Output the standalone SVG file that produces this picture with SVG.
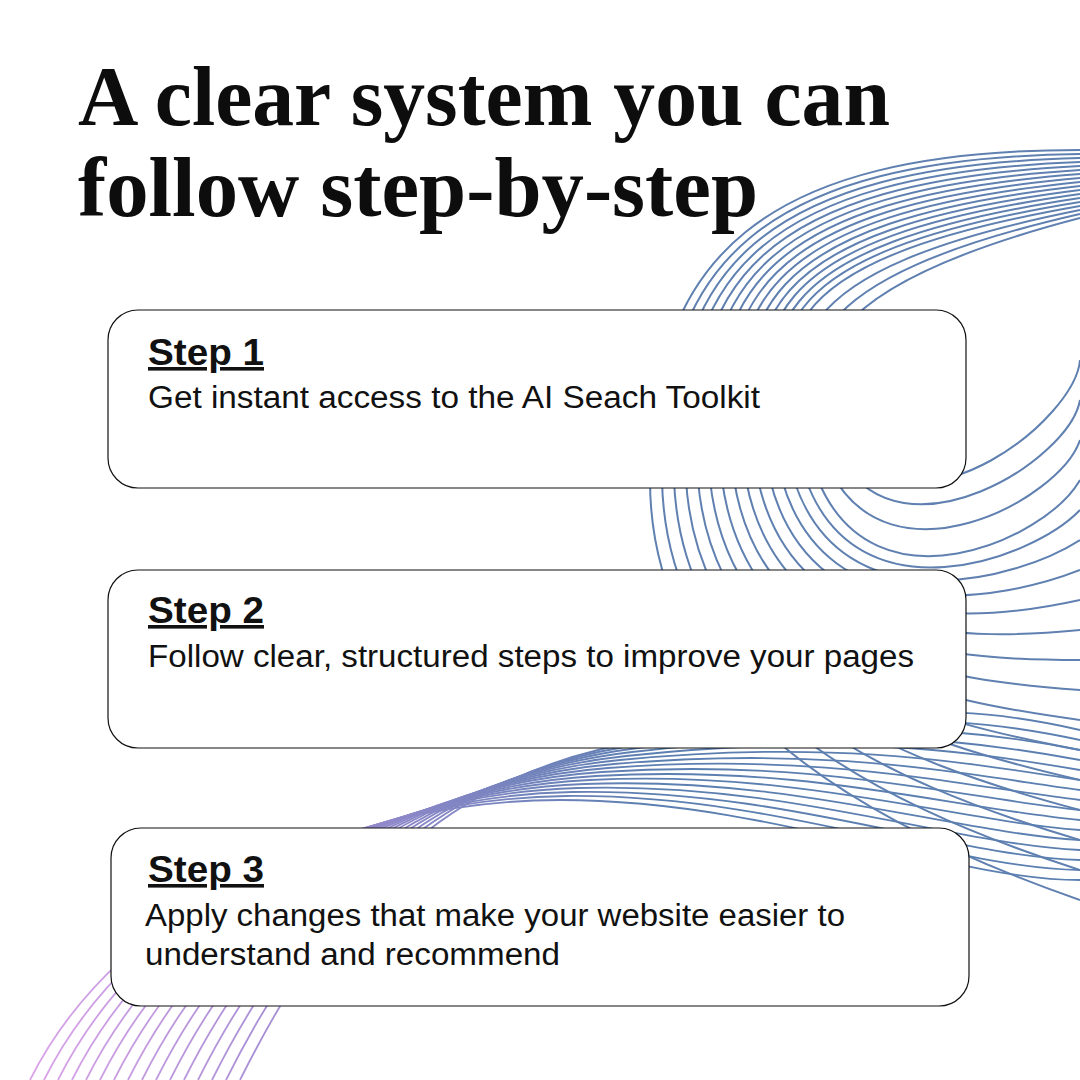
<svg xmlns="http://www.w3.org/2000/svg" width="1080" height="1080" viewBox="0 0 1080 1080">
<defs>
<linearGradient id="g" gradientUnits="userSpaceOnUse" x1="0" y1="0" x2="650" y2="0">
<stop offset="0" stop-color="#e2a6ec"/><stop offset="0.5" stop-color="#9b8ad0"/><stop offset="1" stop-color="#5b7fb0"/>
</linearGradient>
<style>
.w{fill:none;stroke:#5f80b0;stroke-width:2}
.p{fill:none;stroke:url(#g);stroke-width:1.8}
.card{fill:#fff;stroke:#111;stroke-width:1.2}
.h{font-family:"Liberation Sans",Arial,sans-serif;font-weight:bold;font-size:36px;fill:#111;text-decoration:underline}
.b{font-family:"Liberation Sans",Arial,sans-serif;font-size:31px;fill:#111}
.t{font-family:"Liberation Serif",serif;font-weight:bold;font-size:84px;fill:#0d0d0d}
</style>
</defs>
<rect width="1080" height="1080" fill="#fff"/>
<g id="waves">
<path class="w" d="M1080,150 C760,150 650,260 650,480 S850,820 1080,900"/>
<path class="w" d="M1080,154 C760,158 658,266 662,480 S864,800 1080,870"/>
<path class="w" d="M1080,158 C760,166 666,272 674,480 S878,780 1080,840"/>
<path class="w" d="M1080,162 C760,174 674,278 686,480 S892,760 1080,810"/>
<path class="w" d="M1080,166 C760,182 682,284 698,480 S906,740 1080,780"/>
<path class="w" d="M1080,170 C760,190 690,290 710,480 S920,720 1080,750"/>
<path class="w" d="M1080,174 C760,198 698,296 722,480 S934,700 1080,720"/>
<path class="w" d="M1080,178 C760,206 706,302 734,480 S948,680 1080,690"/>
<path class="w" d="M1080,182 C760,214 714,308 746,480 S962,660 1080,660"/>
<path class="w" d="M1080,186 C760,222 722,314 758,480 S976,640 1080,630"/>
<path class="w" d="M1080,190 C760,230 730,320 770,480 S990,620 1080,600"/>
<path class="w" d="M1080,194 C760,238 738,326 782,480 S1004,600 1080,570"/>
<path class="w" d="M1080,198 C760,246 746,332 794,480 S1018,580 1080,540"/>
<path class="w" d="M1080,202 C760,254 754,338 806,480 S1032,560 1080,510"/>
<path class="w" d="M1080,206 C760,262 762,344 818,480 S1046,540 1080,480"/>
<path class="w" d="M1080,210 C780,270 770,350 830,470 S1060,500 1080,440"/>
<path class="w" d="M1080,214 C800,278 780,356 842,460 S1070,460 1080,400"/>
<path class="w" d="M1080,218 C820,286 790,362 856,450 S1075,420 1080,360"/>
<path class="p" d="M30,1080 C120,900 350,800 560,800 S950,880 1080,880"/>
<path class="p" d="M44,1080 C134,900 356,798 566,796 S950,868 1080,870"/>
<path class="p" d="M58,1080 C148,900 362,796 572,792 S950,856 1080,860"/>
<path class="p" d="M72,1080 C162,900 368,794 578,788 S950,844 1080,850"/>
<path class="p" d="M86,1080 C176,900 374,792 584,784 S950,832 1080,840"/>
<path class="p" d="M100,1080 C190,900 380,790 590,780 S950,820 1080,830"/>
<path class="p" d="M114,1080 C204,900 386,788 596,776 S950,808 1080,820"/>
<path class="p" d="M128,1080 C218,900 392,786 602,772 S950,796 1080,810"/>
<path class="p" d="M142,1080 C232,900 398,784 608,768 S950,784 1080,800"/>
<path class="p" d="M156,1080 C246,900 404,782 614,764 S950,772 1080,790"/>
<path class="p" d="M170,1080 C260,900 410,780 620,760 S950,760 1080,780"/>
<path class="p" d="M184,1080 C274,900 416,778 626,756 S950,748 1080,770"/>
<path class="p" d="M198,1080 C288,900 422,776 632,752 S950,736 1080,760"/>
<path class="p" d="M212,1080 C302,900 428,774 638,748 S950,724 1080,750"/>
<path class="p" d="M226,1080 C316,900 434,772 644,744 S950,712 1080,740"/>
<path class="p" d="M240,1080 C330,900 440,770 650,740 S950,700 1080,730"/>
</g>
<g id="title">
<text class="t" x="78" y="125" textLength="812" lengthAdjust="spacingAndGlyphs">A clear system you can</text>
<text class="t" x="78" y="216" textLength="680" lengthAdjust="spacingAndGlyphs">follow step-by-step</text>
</g>
<g id="step1">
<rect class="card" x="108" y="310" width="858" height="178" rx="30"/>
<text class="h" x="148" y="365" textLength="116" lengthAdjust="spacingAndGlyphs">Step 1</text>
<text class="b" x="148" y="408" textLength="612" lengthAdjust="spacingAndGlyphs">Get instant access to the AI Seach Toolkit</text>
</g>
<g id="step2">
<rect class="card" x="108" y="570" width="858" height="178" rx="30"/>
<text class="h" x="148" y="623" textLength="116" lengthAdjust="spacingAndGlyphs">Step 2</text>
<text class="b" x="148" y="667" textLength="766" lengthAdjust="spacingAndGlyphs">Follow clear, structured steps to improve your pages</text>
</g>
<g id="step3">
<rect class="card" x="111" y="828" width="858" height="178" rx="30"/>
<text class="h" x="148" y="882" textLength="116" lengthAdjust="spacingAndGlyphs">Step 3</text>
<text class="b" x="145" y="926" textLength="700" lengthAdjust="spacingAndGlyphs">Apply changes that make your website easier to</text>
<text class="b" x="145" y="965" textLength="415" lengthAdjust="spacingAndGlyphs">understand and recommend</text>
</g>
<g id="connectors"/>
</svg>
